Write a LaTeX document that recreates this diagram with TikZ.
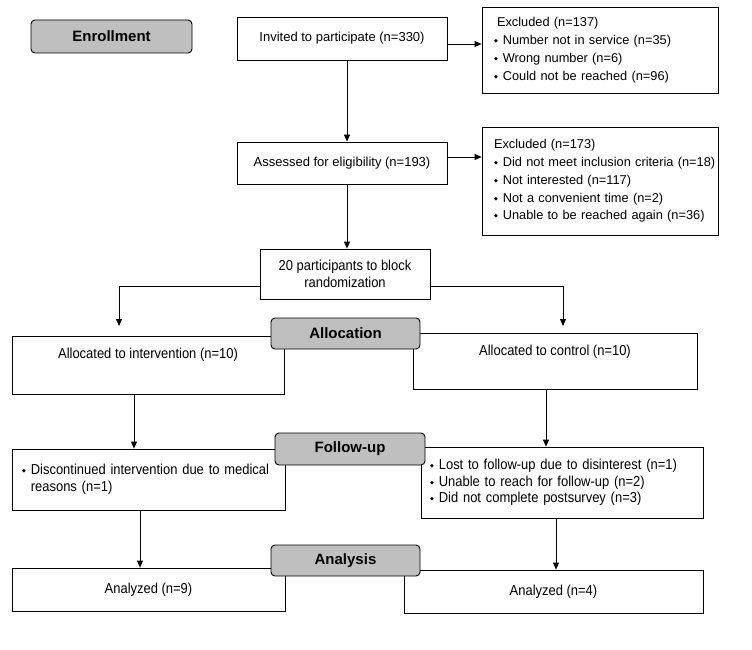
\documentclass[tikz,border=0pt]{standalone}
\usepackage{fontspec}
\setmainfont{Liberation Sans}
\newfontfamily\narrowfont[FakeStretch=0.9]{Liberation Sans}
\newfontfamily\symfont{DejaVu Sans}
\usetikzlibrary{arrows.meta}
\newcommand{\bul}{\raisebox{2pt}{\symfont\fontsize{5}{5}\selectfont ◆}\hspace{5pt}}
\newcommand{\exitem}[1]{\hspace*{12pt}\mbox{\bul #1}}

\tikzset{
	box/.style={draw, line width=0.8pt, fill=white, inner sep=0pt, font=\fontsize{13}{17.8}\selectfont},
	exclbox/.style={box, text width=236pt, inner xsep=0pt, align=left, font=\fontsize{12.8}{17.8}\selectfont},
	lowbox/.style={box, font=\narrowfont\fontsize{14.4}{16.5}\selectfont},
	toptext/.style={anchor=center, yshift=-19pt, font=\narrowfont\fontsize{14.4}{16.5}\selectfont},
	stage/.style={draw, line width=0.9pt, rounded corners=4pt, fill=black!25, inner sep=0pt, font=\bfseries\fontsize{15}{15}\selectfont},
	arr/.style={-{Triangle[length=7pt,width=6pt]}, line width=0.8pt}
}

\begin{document}
\begin{tikzpicture}[x=1pt,y=-1pt]
		\useasboundingbox (0,0) rectangle (752,650);
		% enrollment
		\node[stage, minimum width=161, minimum height=33] (enrol) at (111.5,36.5) {Enrollment};
		\node[box, minimum width=210, minimum height=43] (inv) at (342,38.5) {Invited to participate (n=330)};
		\node[exclbox, minimum height=86] (excl1) at (600,50)
			{\hspace*{15pt}Excluded (n=137)\\ \exitem{Number not in service (n=35)}\\ \exitem{Wrong number (n=6)}\\ \exitem{Could not be reached (n=96)}};
		\node[box, minimum width=210, minimum height=42] (ass) at (342,163) {Assessed for eligibility (n=193)};
		\node[exclbox, minimum height=108] (excl2) at (600,181)
			{\hspace*{12pt}Excluded (n=173)\\ \exitem{Did not meet inclusion criteria (n=18)}\\ \exitem{Not interested (n=117)}\\ \exitem{Not a convenient time (n=2)}\\ \exitem{Unable to be reached again (n=36)}};
		\node[lowbox, minimum width=170, minimum height=50, align=center] (rand) at (345,274) {20 participants to block\\randomization};
		
		% allocation
		\node[lowbox, minimum width=272, minimum height=58, label={[toptext]north:Allocated to intervention (n=10)}] (int) at (148,365) {};
		\node[lowbox, minimum width=284, minimum height=56, label={[toptext]north:Allocated to control (n=10)}] (ctrl) at (555,361) {};
		\node[stage, minimum width=149, minimum height=31] (alloc) at (345.5,333.5) {Allocation};
		
		% follow-up
		\node[lowbox, text width=253pt, inner xsep=10pt, minimum height=61, align=left] (fu1) at (148.5,479.5)
			{\bul Discontinued intervention due to medical\\ \hphantom{\bul}reasons (n=1)};
		\node[lowbox, text width=264pt, inner xsep=9pt, minimum height=71, align=left] (fu2) at (562,482.5)
			{\bul Lost to follow-up due to disinterest (n=1)\\ \bul Unable to reach for follow-up (n=2)\\ \bul Did not complete postsurvey (n=3)};
		\node[stage, minimum width=150, minimum height=32] (follow) at (350,449) {Follow-up};
		
		% analysis
		\node[lowbox, minimum width=273, minimum height=43] (an1) at (148.5,589.5) {Analyzed (n=9)};
		\node[lowbox, minimum width=299, minimum height=43] (an2) at (553.5,591.5) {Analyzed (n=4)};
		\node[stage, minimum width=149, minimum height=31] (anal) at (345.5,560.5) {Analysis};
		
		\coordinate (lend) at (119,326);
		\coordinate (rend) at (563,326);
		
		\draw[arr] ([yshift=-5.5pt]inv.east) -- ([yshift=-5.5pt]inv.east -| excl1.west);
		\draw[arr] ([yshift=6pt]ass.east) -- ([yshift=6pt]ass.east -| excl2.west);
		\draw[arr] ([xshift=5pt]inv.south) -- ([xshift=5pt]inv.south |- ass.north);
		\draw[arr] ([xshift=5pt]ass.south) -- ([xshift=5pt]ass.south |- rand.north);
		\draw[arr] ([yshift=-12pt]rand.west) -| (lend);
		\draw[arr] ([yshift=-12pt]rand.east) -| (rend);
		\draw[arr] ([xshift=-14pt]int.south) -- ([xshift=-14pt]int.south |- fu1.north);
		\draw[arr] ([xshift=-9pt]ctrl.south) -- ([xshift=-9pt]ctrl.south |- fu2.north);
		\draw[arr] ([xshift=-8.5pt]fu1.south) -- ([xshift=-8.5pt]fu1.south |- an1.north);
		\draw[arr] ([xshift=-6pt]fu2.south) -- ([xshift=-6pt]fu2.south |- an2.north);
\end{tikzpicture}
\end{document}
